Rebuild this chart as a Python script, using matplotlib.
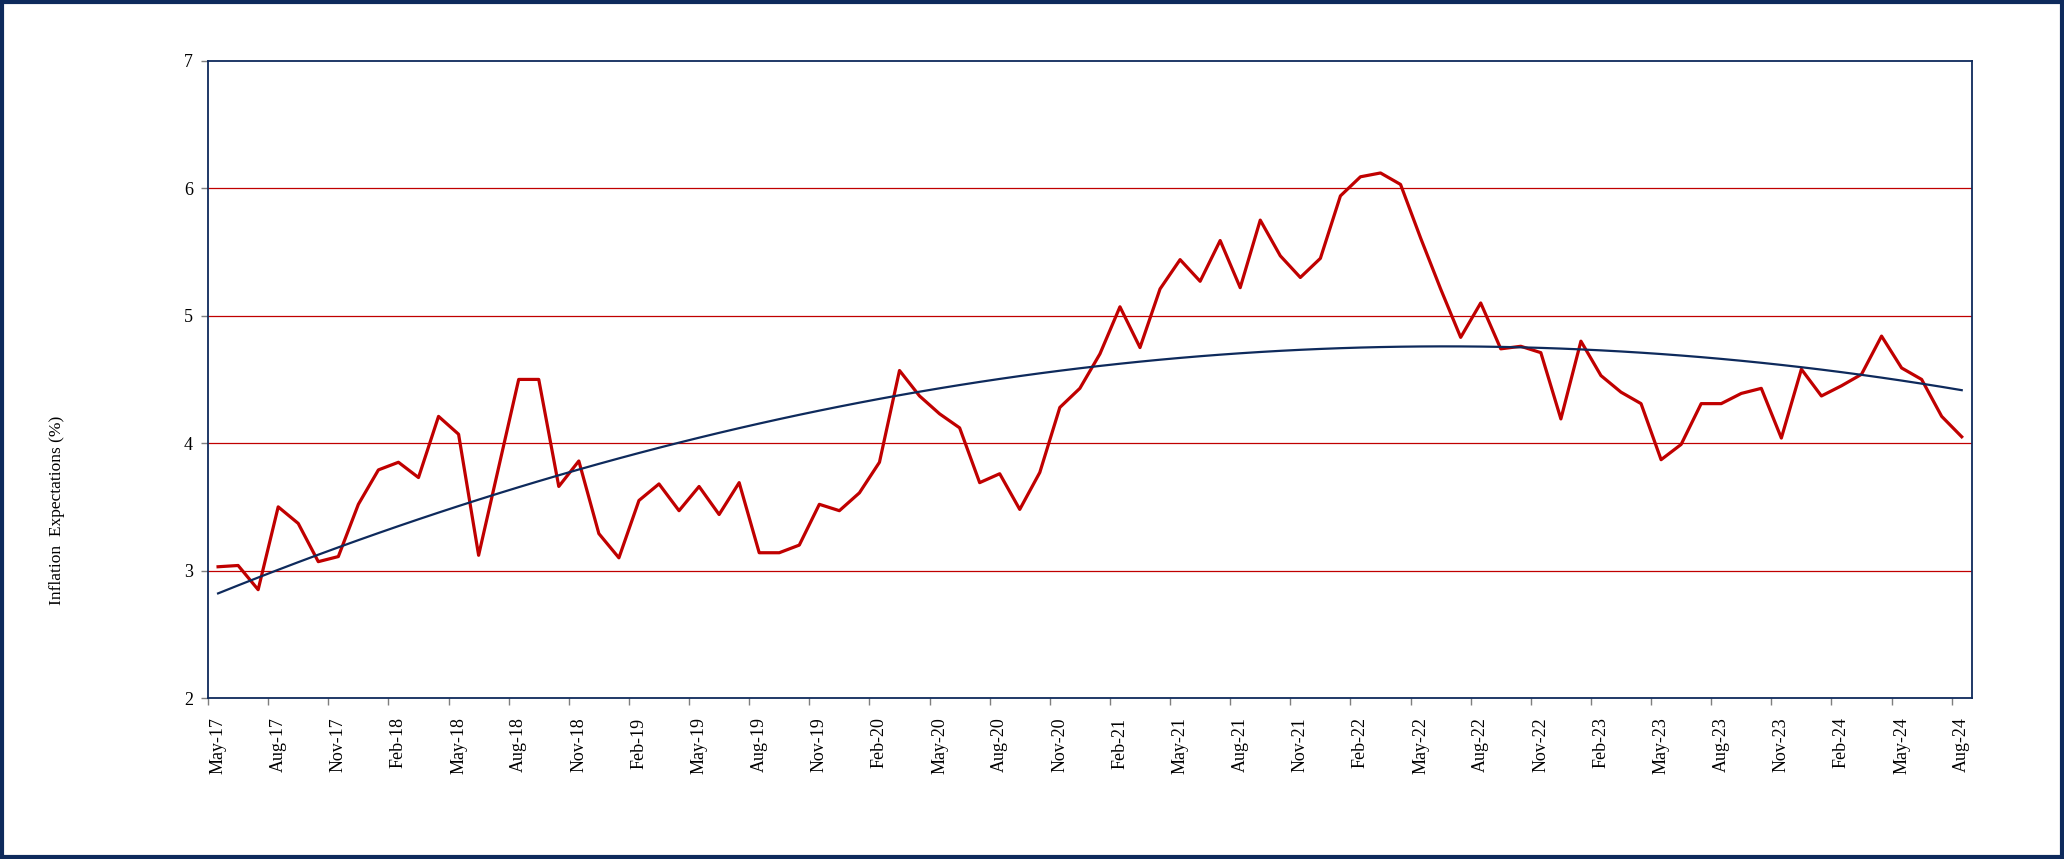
import numpy as np
import matplotlib.pyplot as plt
from matplotlib.patches import Rectangle

plt.rcParams['font.family'] = ['Liberation Serif', 'DejaVu Serif']

months = ['Jan', 'Feb', 'Mar', 'Apr', 'May', 'Jun', 'Jul', 'Aug', 'Sep', 'Oct', 'Nov', 'Dec']
dates = []
for k in range(88):
    m = (4 + k) % 12
    y = 17 + (4 + k) // 12
    dates.append(f'{months[m]}-{y:02d}')

expectations = [
    3.03, 3.04, 2.85, 3.50, 3.37, 3.07, 3.11, 3.52, 3.79, 3.85, 3.73, 4.21,
    4.07, 3.12, 3.81, 4.50, 4.50, 3.66, 3.86, 3.29, 3.10, 3.55, 3.68, 3.47,
    3.66, 3.44, 3.69, 3.14, 3.14, 3.20, 3.52, 3.47, 3.61, 3.85, 4.57, 4.37,
    4.23, 4.12, 3.69, 3.76, 3.48, 3.77, 4.28, 4.43, 4.70, 5.07, 4.75, 5.21,
    5.44, 5.27, 5.59, 5.22, 5.75, 5.47, 5.30, 5.45, 5.94, 6.09, 6.12, 6.03,
    5.61, 5.21, 4.83, 5.10, 4.74, 4.76, 4.71, 4.19, 4.80, 4.53, 4.40, 4.31,
    3.87, 3.99, 4.31, 4.31, 4.39, 4.43, 4.04, 4.58, 4.37, 4.45, 4.54, 4.84,
    4.59, 4.50, 4.21, 4.05,
]

red = '#C00000'
navy = '#0E2A5C'

x = np.arange(len(expectations))
coef = np.polyfit(x, expectations, 2)
trend = np.polyval(coef, x)

fig = plt.figure(figsize=(20.64, 8.59), dpi=100)
ax = fig.add_axes([0.1008, 0.1874, 0.8545, 0.7418])

for g in [3, 4, 5, 6]:
    ax.axhline(g, color=red, lw=0.9, zorder=1)

ax.plot(x, expectations, color=red, lw=2.3, zorder=3)
ax.plot(x, trend, color=navy, lw=1.6, zorder=4)

ax.set_xlim(-0.5, len(expectations) - 0.5)
ax.set_ylim(2, 7)
ax.set_yticks([2, 3, 4, 5, 6, 7])
ax.tick_params(axis='y', direction='out', length=5, width=1, color='#7f7f7f', labelsize=13, pad=6)

ax.set_xticks(x[::3])
ax.set_xticklabels(dates[::3], rotation=90, fontsize=13)
ax.tick_params(axis='x', which='major', length=0, pad=14)
ax.set_xticks(np.arange(-0.5, len(expectations), 3), minor=True)
ax.tick_params(axis='x', which='minor', direction='out', length=5, width=1, color='#7f7f7f')

for s in ax.spines.values():
    s.set_color(navy)
    s.set_linewidth(1.3)

fig.text(0.0276, 0.406, 'Inflation  Expectations (%)', rotation=90,
         ha='center', va='center', fontsize=12.5)

fig.patches.append(Rectangle((0.001, 0.002), 0.998, 0.996, transform=fig.transFigure,
                             fill=False, edgecolor=navy, lw=3))

fig.savefig('out.png', dpi=100)
